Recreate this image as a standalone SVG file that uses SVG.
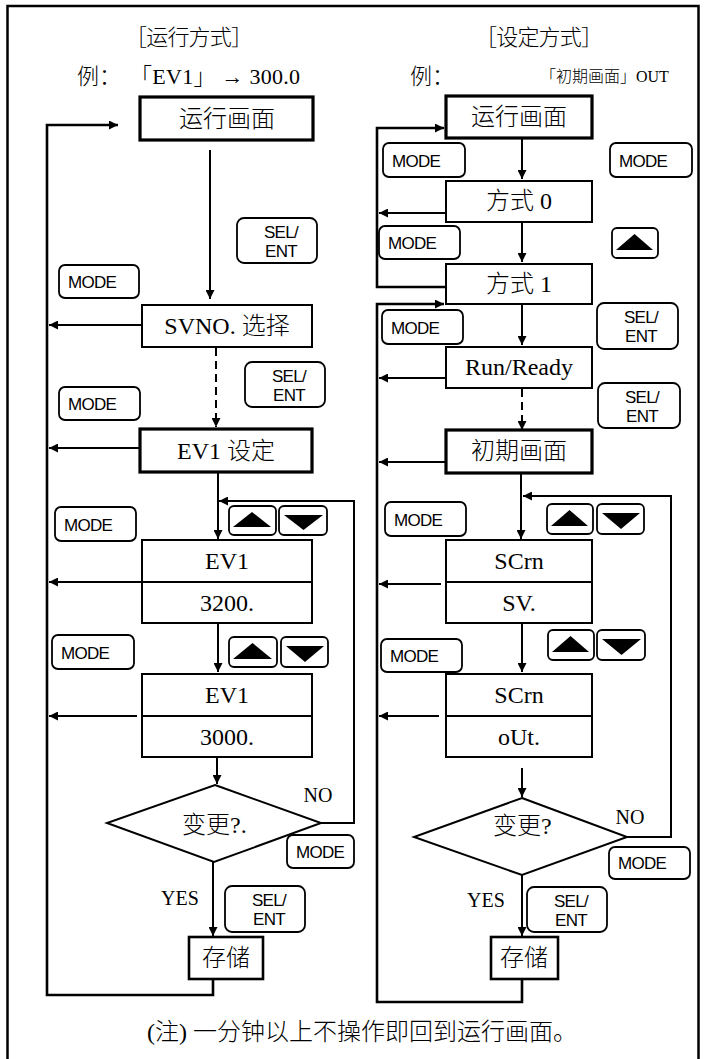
<svg xmlns="http://www.w3.org/2000/svg" width="707" height="1059" viewBox="0 0 707 1059">
<defs>
<style>
.frame{fill:none;stroke:#000;stroke-width:2.5}
.box{fill:#fff;stroke:#000;stroke-width:2}
.boxT{fill:#fff;stroke:#000;stroke-width:3.2}
.div{stroke:#000;stroke-width:2}
.btn{fill:#fff;stroke:#000;stroke-width:1.8}
.tri{fill:#000}
.btxt{font-family:'Liberation Sans',Arial,sans-serif;font-size:17px;letter-spacing:-0.7px;fill:#000}
.sel{text-anchor:end}
.lbl{font-family:'Liberation Serif','Noto Sans CJK SC',serif;font-size:24px;font-weight:300;text-anchor:middle;dominant-baseline:central;fill:#000}
.ttl{font-family:'Liberation Serif','Noto Sans CJK SC',serif;font-size:22px;font-weight:300;dominant-baseline:central;fill:#000}
.yn{font-family:'Liberation Serif','Noto Sans CJK SC',serif;font-size:20px;text-anchor:middle;dominant-baseline:central;fill:#000}
.conn{fill:none;stroke:#000;stroke-width:2}
.thick{stroke-width:2.6}
.dash{stroke-dasharray:8 5}
.ah{marker-end:url(#ah)}
</style>
<marker id="ah" viewBox="0 0 10 10" refX="10" refY="5" markerWidth="11" markerHeight="9" markerUnits="userSpaceOnUse" orient="auto"><path d="M0,0 L10,5 L0,10 z" fill="#000"/></marker>
</defs>
<rect width="707" height="1059" fill="#fff"/>
<rect class="frame" x="7.5" y="6" width="691" height="1080"/>

<g id="titles">
<text class="ttl" x="125" y="37" textLength="128" lengthAdjust="spacing">［运行方式］</text>
<text class="ttl" x="475" y="37" textLength="128" lengthAdjust="spacing">［设定方式］</text>
<text class="ttl" x="77" y="76">例：</text>
<text class="ttl" x="130" y="76" textLength="170" lengthAdjust="spacing">「EV1」 → 300.0</text>
<text class="ttl" x="410" y="76">例：</text>
<text class="ttl" x="540" y="76" style="font-size:16px">「初期画面」OUT</text>
</g>

<g id="connectors">
<path class="conn thick ah" d="M213,979 V995 H47 V125 H118"/>
<path class="conn ah" d="M210,150 V299"/>
<path class="conn ah" d="M142,325 H49"/>
<path class="conn dash ah" d="M216,348 V427"/>
<path class="conn ah" d="M140,448 H49"/>
<path class="conn ah" d="M218,472 V539"/>
<path class="conn ah" d="M321,823 H354 V501 H219"/>
<path class="conn ah" d="M142,582 H49"/>
<path class="conn ah" d="M218,623 V672"/>
<path class="conn ah" d="M137,716 H49"/>
<path class="conn ah" d="M217,757 V784"/>
<path class="conn ah" d="M213,862 V936"/>

<path class="conn thick ah" d="M446,287 H377 V128 H444"/>
<path class="conn thick ah" d="M522,979 V1002 H377 V304 H444"/>
<path class="conn ah" d="M522,138 V179"/>
<path class="conn ah" d="M446,213 H379"/>
<path class="conn ah" d="M522,222 V262"/>
<path class="conn ah" d="M522,304 V345"/>
<path class="conn ah" d="M446,378 H379"/>
<path class="conn dash ah" d="M522,389 V430"/>
<path class="conn ah" d="M446,462 H379"/>
<path class="conn ah" d="M521,474 V539"/>
<path class="conn ah" d="M627,837 H671 V496 H523"/>
<path class="conn ah" d="M441,584 H379"/>
<path class="conn ah" d="M522,623 V672"/>
<path class="conn ah" d="M439,716 H379"/>
<path class="conn ah" d="M522,768 V797"/>
<path class="conn ah" d="M522,875 V936"/>
</g>

<g id="l_run"><rect class="boxT" x="140" y="97" width="173" height="43"/><text class="lbl" x="227" y="119">运行画面</text></g>
<g id="l_svno"><rect class="box" x="142" y="305" width="170" height="42"/><text class="lbl" x="227" y="326">SVNO. 选择</text></g>
<g id="l_ev1set"><rect class="boxT" x="140" y="429" width="172" height="43"/><text class="lbl" x="226" y="451">EV1 设定</text></g>
<g id="l_ev1_3200"><rect class="box" x="142" y="540" width="170" height="83"/><line class="div" x1="142" y1="582" x2="312" y2="582"/><text class="lbl" x="227" y="561">EV1</text><text class="lbl" x="227" y="603">3200.</text></g>
<g id="l_ev1_3000"><rect class="box" x="142" y="674" width="170" height="83"/><line class="div" x1="142" y1="716" x2="312" y2="716"/><text class="lbl" x="227" y="695">EV1</text><text class="lbl" x="227" y="737">3000.</text></g>
<g id="l_change"><polygon class="box" points="215,785 321,823 214,862 107,823"/><text class="lbl" x="182" y="825" style="text-anchor:start">变更?.</text></g>
<g id="l_store"><rect class="box" style="stroke-width:2.6" x="189" y="937" width="74" height="42"/><text class="lbl" x="226" y="958">存储</text></g>

<g id="r_run"><rect class="boxT" x="446" y="96" width="146" height="42"/><text class="lbl" x="519" y="117">运行画面</text></g>
<g id="r_mode0"><rect class="box" x="446" y="181" width="146" height="41"/><text class="lbl" x="519" y="201">方式 0</text></g>
<g id="r_mode1"><rect class="box" x="446" y="264" width="146" height="40"/><text class="lbl" x="519" y="284">方式 1</text></g>
<g id="r_runready"><rect class="box" x="446" y="347" width="146" height="41"/><text class="lbl" x="519" y="367">Run/Ready</text></g>
<g id="r_init"><rect class="boxT" x="446" y="430" width="146" height="43"/><text class="lbl" x="519" y="451">初期画面</text></g>
<g id="r_scrn_sv"><rect class="box" x="446" y="540" width="146" height="83"/><line class="div" x1="446" y1="582" x2="592" y2="582"/><text class="lbl" x="519" y="561">SCrn</text><text class="lbl" x="519" y="603">SV.</text></g>
<g id="r_scrn_out"><rect class="box" x="446" y="674" width="146" height="83"/><line class="div" x1="446" y1="716" x2="592" y2="716"/><text class="lbl" x="519" y="695">SCrn</text><text class="lbl" x="519" y="737">oUt.</text></g>
<g id="r_change"><polygon class="box" points="522,798 627,837 522,875 414,837"/><text class="lbl" x="493" y="826" style="text-anchor:start">变更?</text></g>
<g id="r_store"><rect class="box" style="stroke-width:2.6" x="491" y="937" width="67" height="42"/><text class="lbl" x="524" y="958">存储</text></g>

<g id="labels">
<text class="yn" x="318" y="795">NO</text>
<text class="yn" x="180" y="898">YES</text>
<text class="yn" x="630" y="817">NO</text>
<text class="yn" x="486" y="900">YES</text>
</g>

<g id="l_buttons">
<rect class="btn" x="237" y="218" width="80" height="45" rx="7"/><text class="btxt sel" x="298" y="238">SEL/</text><text class="btxt sel" x="297" y="257">ENT</text>
<rect class="btn" x="59" y="265" width="80" height="33" rx="6"/><text class="btxt" x="68" y="288">MODE</text>
<rect class="btn" x="245" y="362" width="80" height="45" rx="7"/><text class="btxt sel" x="306" y="382">SEL/</text><text class="btxt sel" x="305" y="401">ENT</text>
<rect class="btn" x="59" y="387" width="81" height="33" rx="6"/><text class="btxt" x="68" y="410">MODE</text>
<rect class="btn" x="55" y="507" width="81" height="34" rx="6"/><text class="btxt" x="64" y="531">MODE</text>
<rect class="btn" x="229" y="506" width="47" height="29" rx="5"/><polygon class="tri" points="233,527 271,527 252,512"/>
<rect class="btn" x="279" y="506" width="48" height="29" rx="5"/><polygon class="tri" points="284,515 323,515 303.5,530"/>
<rect class="btn" x="52" y="635" width="82" height="34" rx="6"/><text class="btxt" x="61" y="659">MODE</text>
<rect class="btn" x="229" y="637" width="48" height="30" rx="5"/><polygon class="tri" points="233,659 272,659 252.5,643"/>
<rect class="btn" x="281" y="637" width="47" height="30" rx="5"/><polygon class="tri" points="286,646 324,646 305,662"/>
<rect class="btn" x="287" y="835" width="67" height="33" rx="6"/><text class="btxt" x="296" y="858">MODE</text>
<rect class="btn" x="225" y="886" width="80" height="46" rx="7"/><text class="btxt sel" x="286" y="906">SEL/</text><text class="btxt sel" x="285" y="925">ENT</text>
</g>

<g id="r_buttons">
<rect class="btn" x="383" y="143" width="82" height="34" rx="6"/><text class="btxt" x="392" y="167">MODE</text>
<rect class="btn" x="610" y="143" width="82" height="34" rx="6"/><text class="btxt" x="619" y="167">MODE</text>
<rect class="btn" x="379" y="226" width="81" height="33" rx="6"/><text class="btxt" x="388" y="249">MODE</text>
<rect class="btn" x="612" y="228" width="46" height="30" rx="5"/><polygon class="tri" points="616,250 653,250 634.5,234"/>
<rect class="btn" x="382" y="310" width="81" height="34" rx="6"/><text class="btxt" x="391" y="334">MODE</text>
<rect class="btn" x="597" y="303" width="81" height="46" rx="7"/><text class="btxt sel" x="658" y="323">SEL/</text><text class="btxt sel" x="657" y="342">ENT</text>
<rect class="btn" x="598" y="383" width="82" height="45" rx="7"/><text class="btxt sel" x="659" y="403">SEL/</text><text class="btxt sel" x="658" y="422">ENT</text>
<rect class="btn" x="385" y="502" width="81" height="34" rx="6"/><text class="btxt" x="394" y="526">MODE</text>
<rect class="btn" x="547" y="504" width="46" height="30" rx="5"/><polygon class="tri" points="551,526 588,526 569.5,510"/>
<rect class="btn" x="597" y="504" width="47" height="30" rx="5"/><polygon class="tri" points="602,513 640,513 621,529"/>
<rect class="btn" x="548" y="630" width="46" height="30" rx="5"/><polygon class="tri" points="552,652 589,652 570.5,636"/>
<rect class="btn" x="597" y="630" width="48" height="30" rx="5"/><polygon class="tri" points="602,639 641,639 621.5,655"/>
<rect class="btn" x="381" y="639" width="81" height="33" rx="6"/><text class="btxt" x="390" y="662">MODE</text>
<rect class="btn" x="609" y="847" width="81" height="32" rx="6"/><text class="btxt" x="618" y="869">MODE</text>
<rect class="btn" x="527" y="887" width="80" height="45" rx="7"/><text class="btxt sel" x="588" y="907">SEL/</text><text class="btxt sel" x="587" y="926">ENT</text>
</g>

<g id="note"><text class="ttl" x="147" y="1032" style="font-size:24px">(注) 一分钟以上不操作即回到运行画面。</text></g>
</svg>
